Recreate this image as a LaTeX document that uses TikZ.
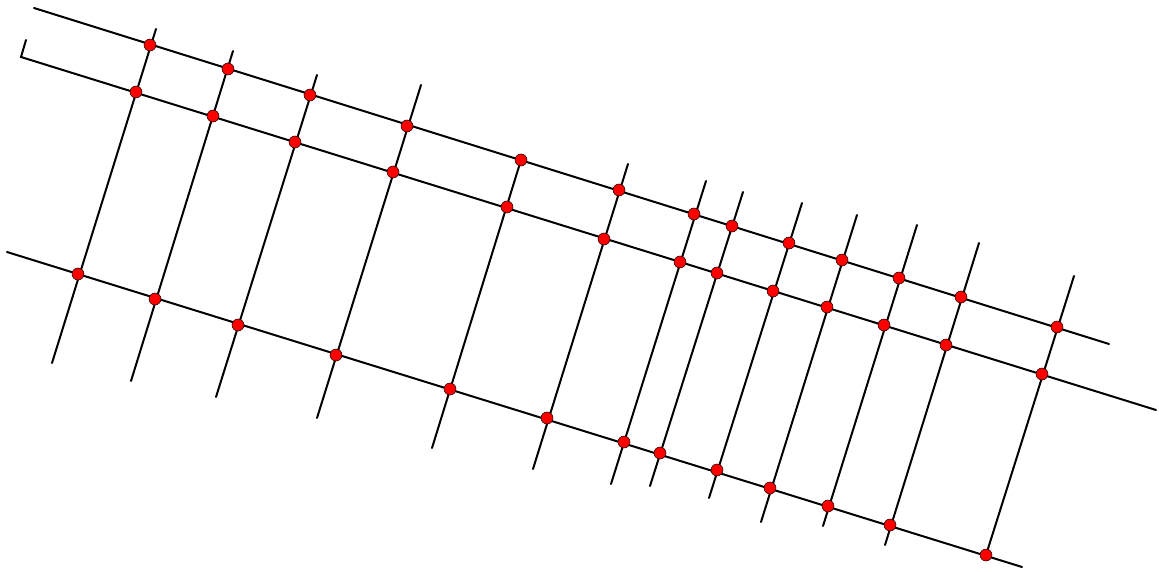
\documentclass[tikz,border=0pt]{standalone}
\begin{document}
\begin{tikzpicture}[x=1pt,y=-1pt,
  ln/.style={line width=2pt,black,line cap=round},
  pt/.style={circle,draw=black,line width=0.5pt,fill=red,inner sep=0pt,minimum size=12pt}]
\useasboundingbox (0,0) rectangle (1159,572);
% end points
\coordinate (TS) at (34,8);
\coordinate (TE) at (1109,344);
\coordinate (HK) at (26,40);
\coordinate (MS) at (21,57);
\coordinate (ME) at (1156,410);
\coordinate (BS) at (7,252);
\coordinate (BE) at (1022,567);
\foreach \i/\x/\y in {1/156/29,2/233/51,3/317/75,4/421/85,6/628/164,7/706/181,8/743/192,9/802/203,10/857/215,11/917/225,12/979/243,13/1074/276}
  \coordinate (U\i) at (\x,\y);
\foreach \i/\x/\y in {1/52/363,2/131/381,3/216/397,4/317/418,5/432/448,6/533/469,7/611/484,8/650/486,9/709/498,10/761/522,11/823/526,12/885/545}
  \coordinate (L\i) at (\x,\y);
% intersection points
\foreach \i/\x/\y in {1/150/45,2/228/69,3/310/95,4/407/126,5/521/160,6/619/190,7/694/214,8/732/226,9/789/243,10/842/260,11/899/278,12/961/297,13/1057/327}
  \coordinate (tc\i) at (\x,\y);
\foreach \i/\x/\y in {1/136/92,2/213/116,3/295/142,4/393/172,5/507/207,6/604/239,7/680/262,8/717/273,9/773/291,10/827/307,11/884/325,12/946/345,13/1042/374}
  \coordinate (mc\i) at (\x,\y);
\foreach \i/\x/\y in {1/78/274,2/155/299,3/238/325,4/336/355,5/450/389,6/547/418,7/624/442,8/660/453,9/717/470,10/770/488,11/828/506,12/890/525,13/986/555}
  \coordinate (bc\i) at (\x,\y);
\coordinate (U5) at (tc5);
\coordinate (L13) at (bc13);
% long lines
\draw[ln] (TS) -- (TE);
\draw[ln] (HK) -- (MS) -- (ME);
\draw[ln] (BS) -- (BE);
% transversals
\foreach \i in {1,...,13}
  \draw[ln] (U\i) -- (L\i);
% dots
\foreach \i in {1,...,13}{
  \node[pt] (t\i) at (tc\i) {};
  \node[pt] (m\i) at (mc\i) {};
  \node[pt] (b\i) at (bc\i) {};
}
\end{tikzpicture}
\end{document}
